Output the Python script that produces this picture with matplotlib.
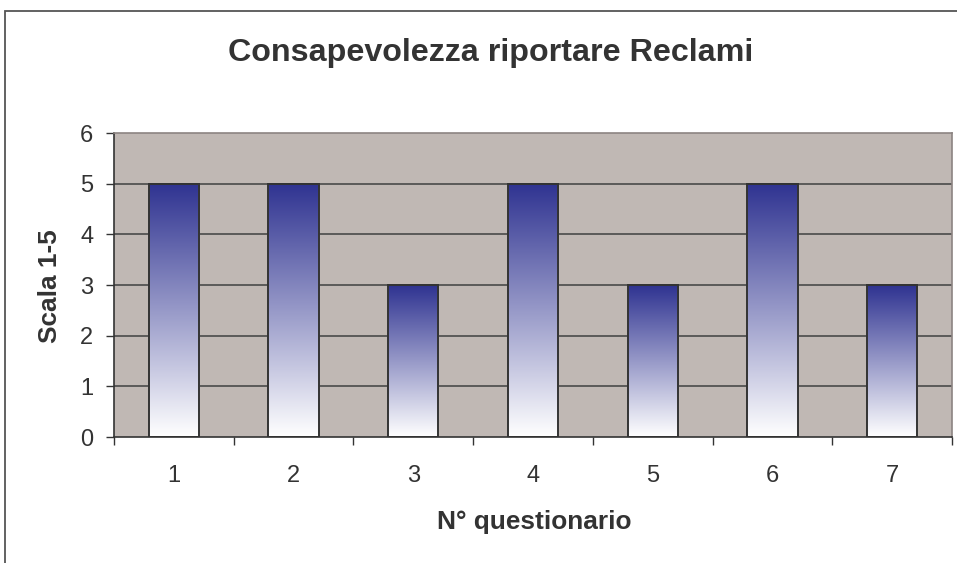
import numpy as np
import matplotlib
matplotlib.use("Agg")
import matplotlib.pyplot as plt
from matplotlib.colors import LinearSegmentedColormap
from matplotlib.patches import Rectangle

questionari = [1, 2, 3, 4, 5, 6, 7]
valori = [5, 5, 3, 5, 3, 5, 3]
y_ticks = [0, 1, 2, 3, 4, 5, 6]

titolo = "Consapevolezza riportare Reclami"
etichetta_x = "N° questionario"
etichetta_y = "Scala 1-5"

plt.rcParams['font.family'] = ['Liberation Sans', 'DejaVu Sans']
testo = '#333333'

W, H = 957, 563
fig = plt.figure(figsize=(W / 100, H / 100), dpi=100)
fig.patch.set_facecolor('white')

# cornice del grafico (tagliata a destra e in basso)
fig.patches.append(Rectangle((5 / W, -0.05), 1.1, 1 - 11 / H + 0.05,
                             transform=fig.transFigure, fill=False,
                             edgecolor='#555555', linewidth=1.3))

ax = fig.add_axes([114 / W, 1 - 437 / H, (952 - 114) / W, (437 - 133) / H])
ax.set_facecolor('#C0B8B4')

# griglia orizzontale
for y in y_ticks[1:-1]:
    ax.axhline(y, color='#404040', linewidth=1.1, zorder=1)

cmap = LinearSegmentedColormap.from_list('grad', ['#FFFFFF', '#2F3391'])
grad = np.linspace(0, 1, 256).reshape(-1, 1)
larghezza = 0.42
for x, v in zip(questionari, valori):
    ax.imshow(grad, extent=[x - larghezza / 2, x + larghezza / 2, 0, v],
              origin='lower', cmap=cmap, aspect='auto', zorder=2,
              interpolation='bilinear')
ax.bar(questionari, valori, width=larghezza, facecolor='none',
       edgecolor='#333333', linewidth=1.4, zorder=3)

ax.set_xlim(0.5, 7.5)
ax.set_ylim(0, 6)

ax.set_yticks(y_ticks)
ax.set_xticks(questionari)
ax.set_xticks(np.arange(0.5, 8, 1), minor=True)
ax.tick_params(axis='x', which='major', length=0, pad=20, labelsize=17,
               labelcolor=testo)
ax.tick_params(axis='x', which='minor', length=6, width=1, color='#333333',
               direction='out')
ax.tick_params(axis='y', length=6, width=1, color='#333333', direction='out',
               pad=9, labelsize=17, labelcolor=testo)

for lato in ['left', 'bottom']:
    ax.spines[lato].set_color('#333333')
    ax.spines[lato].set_linewidth(1.2)
for lato in ['top', 'right']:
    ax.spines[lato].set_color('#8C8482')
    ax.spines[lato].set_linewidth(1.2)

fig.text(491 / W, 1 - 53 / H, titolo, ha='center', va='center',
         fontsize=23.2, fontweight='bold', color=testo)
fig.text(534 / W, 1 - 522 / H, etichetta_x, ha='center', va='center',
         fontsize=18.9, fontweight='bold', color=testo)
fig.text(50 / W, 1 - 286 / H, etichetta_y, ha='center', va='center',
         rotation=90, fontsize=18.9, fontweight='bold', color=testo)

fig.savefig('out.png', dpi=100)
